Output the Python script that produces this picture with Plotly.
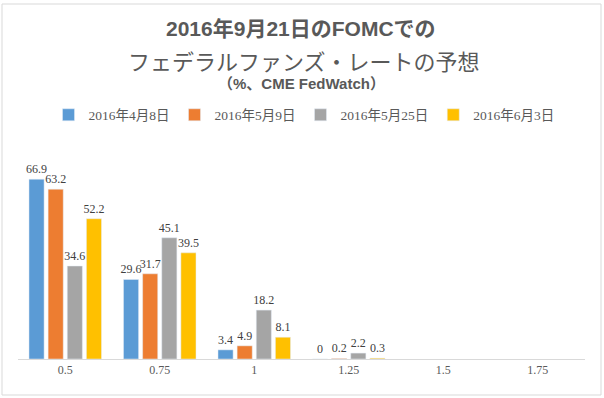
import plotly.graph_objects as go

categories = ["0.5", "0.75", "1", "1.25", "1.5", "1.75"]
series_names = ["2016年4月8日", "2016年5月9日", "2016年5月25日", "2016年6月3日"]
apr8 = [66.9, 29.6, 3.4, 0, None, None]
may9 = [63.2, 31.7, 4.9, 0.2, None, None]
may25 = [34.6, 45.1, 18.2, 2.2, None, None]
jun3 = [52.2, 39.5, 8.1, 0.3, None, None]
colors = ["#5B9BD5", "#ED7D31", "#A5A5A5", "#FFC000"]

W, H = 604, 398
L, R, T, B = 18, 19, 144, 39
PW, PH = W - L - R, H - T - B

def px(x):
    return (x - L) / PW

def py(y):
    return (H - B - y) / PH

serif = "Liberation Serif, DejaVu Serif, Noto Sans CJK JP"
sans = "Liberation Sans, Arial, Noto Sans CJK JP"

fig = go.Figure()
for name, vals, c in zip(series_names, [apr8, may9, may25, jun3], colors):
    fig.add_trace(go.Bar(
        x=categories, y=vals, name=name, marker_color=c,
        text=[("" if v is None else f"{v:g}") for v in vals],
        textposition="outside", cliponaxis=False, constraintext="none", textangle=0,
        textfont=dict(family=serif, size=12, color="#404040"),
    ))

fig.update_layout(
    width=W, height=H,
    margin=dict(l=L, r=R, t=T, b=B, autoexpand=False),
    paper_bgcolor="white", plot_bgcolor="white",
    barmode="group", bargap=0.19, bargroupgap=0.21,
    showlegend=True,
    legend=dict(orientation="h", x=px(304), xanchor="center", y=py(115), yanchor="middle",
                font=dict(family=serif, size=13.5, color="#595959"),
                itemwidth=30, traceorder="normal"),
    xaxis=dict(showline=True, linecolor="#D9D9D9", linewidth=1, ticks="",
               tickfont=dict(family=serif, size=12, color="#595959"),
               showgrid=False, fixedrange=True, automargin=False),
    yaxis=dict(range=[0, 80], visible=False, showgrid=False, fixedrange=True, automargin=False),
)

fig.add_annotation(text="<b>2016年9月21日のFOMCでの</b>", xref="paper", yref="paper",
                   x=px(301), y=py(28), showarrow=False, xanchor="center", yanchor="middle",
                   font=dict(family=sans, size=21, color="#595959"))
fig.add_annotation(text="フェデラルファンズ・レートの予想", xref="paper", yref="paper",
                   x=px(304), y=py(60), showarrow=False, xanchor="center", yanchor="middle",
                   font=dict(family="Noto Sans CJK JP", size=22, color="#595959"))
fig.add_annotation(text="<b>（%、CME FedWatch）</b>", xref="paper", yref="paper",
                   x=px(301), y=py(83), showarrow=False, xanchor="center", yanchor="middle",
                   font=dict(family=sans, size=15, color="#595959"))

fig.add_shape(type="rect", xref="paper", yref="paper",
              x0=px(2), x1=px(601), y0=py(395), y1=py(4),
              line=dict(color="#D9D9D9", width=1), fillcolor="rgba(0,0,0,0)", layer="above")

fig.write_html("out.html", config={"displayModeBar": False},
               post_script="document.body.style.margin='0';document.body.style.overflow='hidden';")
